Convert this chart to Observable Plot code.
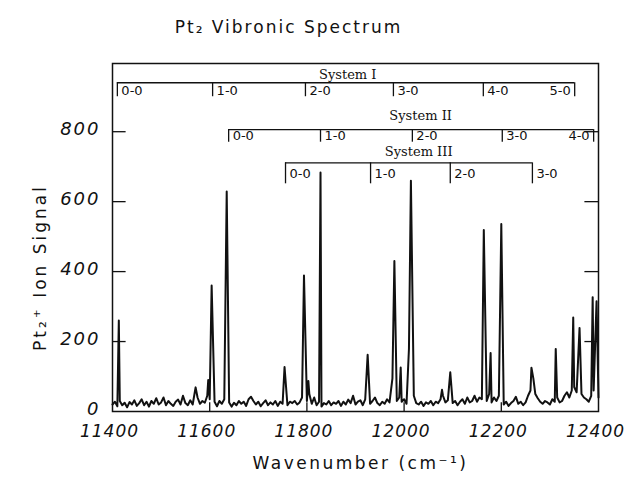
<!DOCTYPE html>
<html><head><meta charset="utf-8">
<script src="https://cdn.jsdelivr.net/npm/d3@7"></script>
<script src="https://cdn.jsdelivr.net/npm/@observablehq/plot@0.6"></script>
<style>body{margin:0;background:#fff}</style>
</head><body><div id="chart"></div>
<script>
const title = "Pt₂ Vibronic Spectrum";
const xLabel = "Wavenumber (cm⁻¹)";
const yLabel = "Pt₂⁺ Ion Signal";
const xTicks = [11400, 11600, 11800, 12000, 12200, 12400];
const yTicks = [0, 200, 400, 600, 800];

// baseline scan, one value every 5 cm-1 from 11400 to 12400
const scanStart = 11400, scanStep = 5;
const baseline = [
  20, 28, 15, 30, 18, 25, 12, 27, 20, 32,
  16, 24, 35, 18, 28, 14, 30, 22, 38, 20,
  26, 40, 18, 30, 22, 16, 28, 34, 20, 45,
  24, 18, 32, 20, 28, 40, 22, 30, 25, 45,
  35, 20, 28, 15, 30, 22, 35, 18, 26, 14,
  25, 18, 30, 22, 28, 16, 35, 42, 30, 20,
  28, 15, 24, 32, 18, 26, 20, 30, 16, 28,
  22, 35, 18, 28, 24, 30, 20, 26, 40, 45,
  30, 50, 22, 40, 18, 28, 14, 24, 20, 30,
  18, 26, 22, 30, 16, 28, 20, 34, 24, 45,
  20, 28, 32, 18, 35, 26, 22, 30, 40, 24,
  18, 28, 22, 35, 26, 45, 50, 30, 40, 28,
  35, 22, 40, 30, 45, 24, 20, 28, 16, 26,
  22, 30, 18, 28, 24, 35, 45, 26, 32, 40,
  24, 30, 18, 28, 35, 22, 40, 26, 30, 45,
  28, 40, 35, 45, 30, 50, 26, 40, 30, 45,
  35, 20, 28, 16, 24, 30, 42, 22, 28, 18,
  26, 45, 60, 70, 50, 38, 28, 22, 30, 26,
  20, 35, 28, 40, 26, 30, 45, 55, 40, 60,
  70, 55, 80, 50, 40, 35, 28, 45, 60, 70,
  40
];
const peakWavenumbers = [11413, 11571, 11597, 11604, 11635, 11754, 11794, 11803, 11828, 11925,
  11976, 11980, 11993, 12010, 12014, 12078, 12095, 12164, 12178, 12200,
  12262, 12266, 12312, 12348, 12361, 12388, 12396];
const peakHeights = [260, 69, 90, 360, 629, 127, 389, 87, 683, 162,
  95, 430, 126, 180, 660, 62, 112, 519, 167, 536,
  125, 94, 179, 269, 239, 327, 315];

// vibronic progressions
const systemNames = ["System I", "System II", "System III"];
const systemNameAt = [11884, 12034, 12030];
const systemTicks = [
  [11410, 11606, 11797, 11978, 12163, 12351],
  [11639, 11828, 12017, 12202, 12390],
  [11756, 11931, 12095, 12264]
];
const systemBandLabels = [
  ["0-0", "1-0", "2-0", "3-0", "4-0", "5-0"],
  ["0-0", "1-0", "2-0", "3-0", "4-0"],
  ["0-0", "1-0", "2-0", "3-0"]
];
// is the last label placed left of the closing tick?
const lastLabelInside = [true, true, false];

// layout (signal-axis levels of each bracket row)
const rowLayout = [
  {name: 962, line: 940, tickEnd: 900, label: 918},
  {name: 844, line: 806, tickEnd: 770, label: 789},
  {name: 742, line: 711, tickEnd: 651, label: 680}
];

const peaks = peakWavenumbers.map((wn, i) => ({wn, sig: peakHeights[i]}));
const base = baseline.map((sig, i) => ({wn: scanStart + i * scanStep, sig}))
  .filter(b => !peakWavenumbers.some(p => Math.abs(p - b.wn) < 2));
const spectrum = base.concat(peaks).sort((a, b) => a.wn - b.wn);

const hLines = [], vTicks = [], bandText = [], nameText = [];
systemTicks.forEach((ticks, s) => {
  const L = rowLayout[s];
  hLines.push({x1: ticks[0], x2: ticks[ticks.length - 1], y: L.line});
  ticks.forEach(t => vTicks.push({x: t, y1: L.line, y2: L.tickEnd}));
  nameText.push({x: systemNameAt[s], y: L.name, text: systemNames[s]});
  systemBandLabels[s].forEach((lab, i) => {
    const last = i === systemBandLabels[s].length - 1;
    if (last && lastLabelInside[s]) {
      bandText.push({x: ticks[ticks.length - 1], y: L.label, text: lab, anchor: "end"});
    } else {
      bandText.push({x: ticks[i], y: L.label, text: lab, anchor: "start"});
    }
  });
});

const font = "DejaVu Sans";
const ink = "#111";
const chart = Plot.plot({
  width: 627, height: 489,
  marginLeft: 112, marginRight: 29, marginTop: 63, marginBottom: 78,
  style: {fontFamily: font, background: "#fff", color: ink},
  x: {domain: [11400, 12400]},
  y: {domain: [0, 995]},
  marks: [
    Plot.frame({stroke: ink, strokeWidth: 1.5}),
    Plot.line(spectrum, {x: "wn", y: "sig", stroke: ink, strokeWidth: 2}),
    Plot.ruleY(yTicks.filter(d => d > 0), {x1: 11400, x2: 11428, stroke: ink, strokeWidth: 1.3}),
    Plot.ruleY(yTicks.filter(d => d > 0), {x1: 12372, x2: 12400, stroke: ink, strokeWidth: 1.3}),
    Plot.ruleX(xTicks.slice(1, -1), {y1: 0, y2: 25, stroke: ink, strokeWidth: 1.3}),
    Plot.axisY({ticks: yTicks, tickSize: 0, tickPadding: 12, label: null, fontFamily: font, fontSize: 18, fontStyle: "italic", fill: ink, dy: -2}),
    Plot.axisX({ticks: xTicks, tickSize: 0, tickPadding: 13, tickFormat: d => String(d), label: null, fontFamily: font, fontSize: 17, fontStyle: "italic", fill: ink, dx: -3}),
    Plot.ruleY(hLines, {x1: "x1", x2: "x2", y: "y", stroke: ink, strokeWidth: 1.3}),
    Plot.ruleX(vTicks, {x: "x", y1: "y1", y2: "y2", stroke: ink, strokeWidth: 1.3}),
    Plot.text(nameText, {x: "x", y: "y", text: "text", fontFamily: "DejaVu Serif", fontSize: 13, fill: ink}),
    Plot.text(bandText.filter(d => d.anchor === "start"), {x: "x", y: "y", text: "text", textAnchor: "start", dx: 4, fontFamily: font, fontSize: 13, fill: ink}),
    Plot.text(bandText.filter(d => d.anchor === "end"), {x: "x", y: "y", text: "text", textAnchor: "end", dx: -4, fontFamily: font, fontSize: 13, fill: ink}),
    Plot.text([title], {frameAnchor: "top", textAnchor: "middle", dx: -67, dy: -43, fontFamily: font, fontSize: 17, fill: ink}),
    Plot.text([xLabel], {frameAnchor: "bottom", textAnchor: "middle", dx: 5, dy: 57, fontFamily: font, fontSize: 17, fill: ink}),
    Plot.text([yLabel], {frameAnchor: "left", textAnchor: "middle", dx: -72, dy: 30, rotate: -90, fontFamily: font, fontSize: 17, fill: ink})
  ]
});
const svg = d3.select(chart);
const spacing = new Map([[title, "2px"], [xLabel, "2.5px"], [yLabel, "3px"]]);
svg.selectAll("text").each(function() {
  const t = this.textContent;
  if (spacing.has(t)) d3.select(this).style("letter-spacing", spacing.get(t));
});
svg.selectAll('g[aria-label="y-axis tick label"] text').style("letter-spacing", "2px");
svg.selectAll('g[aria-label="x-axis tick label"] text').style("letter-spacing", "1px");
document.getElementById("chart").appendChild(chart);
</script>
</body></html>
